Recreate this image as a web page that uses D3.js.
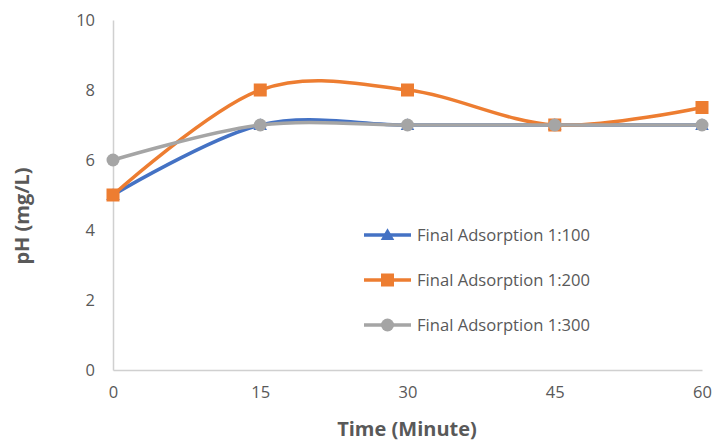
<!DOCTYPE html>
<html>
<head>
<meta charset="utf-8">
<script src="https://cdn.jsdelivr.net/npm/d3@7"></script>
<style>
  html, body { margin: 0; padding: 0; background: #fff; }
  svg { display: block; font-family: "Open Sans", sans-serif; }
</style>
</head>
<body>
<svg id="chart" width="713" height="442"></svg>
<script>
// Sampling times (minutes) and pH readings for each adsorption ratio
const times = [0, 15, 30, 45, 60];
const ratio100 = [5, 7, 7, 7, 7];
const ratio200 = [5, 8, 8, 7, 7.5];
const ratio300 = [6, 7, 7, 7, 7];
const yTicks = [0, 2, 4, 6, 8, 10];
const seriesNames = ["Final Adsorption 1:100", "Final Adsorption 1:200", "Final Adsorption 1:300"];

const series = [
  { name: seriesNames[0], values: ratio100, color: "#4472C4", marker: "triangle" },
  { name: seriesNames[1], values: ratio200, color: "#ED7D31", marker: "square" },
  { name: seriesNames[2], values: ratio300, color: "#A5A5A5", marker: "circle" }
];

const svg = d3.select("#chart");
const x = d3.scaleLinear().domain([0, 60]).range([113, 702]);
const y = d3.scaleLinear().domain([0, 10]).range([370, 20]);

const axisColor = "#D0D0D0";
const textColor = "#595959";

// Axes
const xAxis = svg.append("g").attr("transform", `translate(0,${y(0)})`)
  .call(d3.axisBottom(x).tickValues(times).tickSize(0).tickPadding(16));
const yAxis = svg.append("g").attr("transform", `translate(${x(0)},0)`)
  .call(d3.axisLeft(y).tickValues(yTicks).tickSize(0).tickPadding(18));
[xAxis, yAxis].forEach(g => {
  g.select(".domain").attr("stroke", axisColor).attr("stroke-width", 1.5);
  g.selectAll("text").attr("fill", textColor).attr("font-size", 16.5).attr("font-family", "'Open Sans', sans-serif");
});

// Axis titles
svg.append("text")
  .attr("x", 407).attr("y", 436)
  .attr("text-anchor", "middle")
  .attr("font-size", 20).attr("font-weight", "bold").attr("fill", textColor)
  .text("Time (Minute)");
svg.append("text")
  .attr("transform", `translate(29,216) rotate(-90)`)
  .attr("text-anchor", "middle")
  .attr("font-size", 20).attr("font-weight", "bold").attr("fill", textColor)
  .text("pH (mg/L)");

const line = d3.line()
  .x((d, i) => x(times[i]))
  .y(d => y(d))
  .curve(d3.curveCatmullRom.alpha(0));

function drawMarker(g, type, color, cx, cy) {
  if (type === "triangle") {
    g.append("path").attr("d", d3.symbol(d3.symbolTriangle, 80)())
      .attr("transform", `translate(${cx},${cy + 1})`).attr("fill", color);
  } else if (type === "square") {
    g.append("rect").attr("x", cx - 6.5).attr("y", cy - 6.5)
      .attr("width", 13).attr("height", 13).attr("fill", color);
  } else {
    g.append("circle").attr("cx", cx).attr("cy", cy).attr("r", 6.5).attr("fill", color);
  }
}

// Series lines with markers
series.forEach(s => {
  const g = svg.append("g");
  g.append("path").datum(s.values)
    .attr("d", line)
    .attr("fill", "none")
    .attr("stroke", s.color)
    .attr("stroke-width", 3.5)
    .attr("stroke-linecap", "round");
  s.values.forEach((v, i) => drawMarker(g, s.marker, s.color, x(times[i]), y(v)));
});

// Legend
const legend = svg.append("g");
series.forEach((s, i) => {
  const ly = 235 + i * 45;
  legend.append("line").attr("x1", 364).attr("x2", 411).attr("y1", ly).attr("y2", ly)
    .attr("stroke", s.color).attr("stroke-width", 3.5);
  drawMarker(legend, s.marker, s.color, 387.5, ly);
  legend.append("text").attr("x", 417).attr("y", ly).attr("dy", "0.35em")
    .attr("font-size", 16.6).attr("fill", textColor).text(s.name);
});
</script>
</body>
</html>
